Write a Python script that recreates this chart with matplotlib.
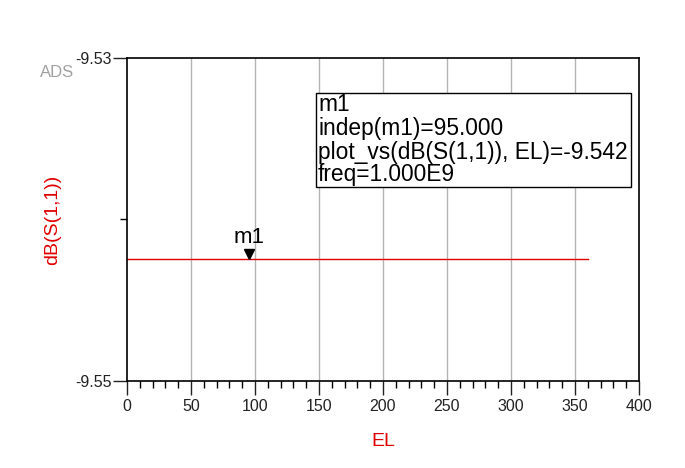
import numpy as np
import matplotlib
matplotlib.use("Agg")
from matplotlib import pyplot as plt
from matplotlib.patches import Rectangle

plt.rcParams['font.family'] = ['Liberation Sans', 'DejaVu Sans']

# data
el = [0, 360]
s11_db = [-9.54245, -9.54245]
marker_x = 95.0
marker_y = -9.54245
x_ticks = [0, 50, 100, 150, 200, 250, 300, 350, 400]
y_ticks = [-9.55, -9.53]
y_ticklabels = ['-9.55', '-9.53']
box_lines = ['m1', 'indep(m1)=95.000', 'plot_vs(dB(S(1,1)), EL)=-9.542', 'freq=1.000E9']

W, H = 685, 468
fig = plt.figure(figsize=(W / 100, H / 100), dpi=100)
ax = fig.add_axes([127 / W, 1 - 381 / H, 512 / W, 323 / H])

ax.plot(el, s11_db, color='#e00000', linewidth=1)
ax.set_xlim(0, 400)
ax.set_ylim(-9.55, -9.53)

for x in x_ticks[1:-1]:
    ax.axvline(x, color='#b4b4b4', linewidth=1, zorder=0)

ax.set_xticks(x_ticks)
ax.set_xticks(np.arange(0, 401, 10), minor=True)
ax.set_yticks(y_ticks)
ax.set_yticklabels(y_ticklabels)
ax.set_yticks([-9.54], minor=True)
ax.tick_params(axis='x', which='major', direction='out', length=10, width=1, labelsize=11.5, colors='#222222', pad=3)
ax.tick_params(axis='x', which='minor', direction='out', length=5, width=1)
ax.tick_params(axis='y', which='major', direction='out', length=10, width=1, labelsize=11.5, colors='#222222', pad=1)
ax.tick_params(axis='y', which='minor', direction='out', length=5, width=1)
for sp in ax.spines.values():
    sp.set_linewidth(1.2)

ax.set_xlabel('EL', color='#e00000', fontsize=14, labelpad=14)
ax.set_ylabel('dB(S(1,1))', color='#e00000', fontsize=14, labelpad=10)

# marker
ax.plot([marker_x], [marker_y], marker='v', color='black', markersize=7,
        transform=ax.transData + matplotlib.transforms.ScaledTranslation(0, 5 / 100, fig.dpi_scale_trans),
        linestyle='none')
ax.annotate('m1', (marker_x, marker_y), xytext=(0, 16), textcoords='offset pixels',
            ha='center', va='baseline', fontsize=16)

# marker readout box
ax.add_patch(Rectangle((0.369, 0.6006), 0.615, 0.291, transform=ax.transAxes,
                       fill=True, facecolor='white', edgecolor='black', linewidth=1, zorder=3))
baselines = [111, 135, 159, 181]
for line, by in zip(box_lines, baselines):
    fig.text(318 / W, 1 - by / H, line, fontsize=16.4, ha='left', va='baseline', zorder=4)

fig.text(40 / W, 1 - 77 / H, 'ADS', fontsize=12, color='#a0a0a0', ha='left', va='baseline')

fig.savefig('out.png', dpi=100)
